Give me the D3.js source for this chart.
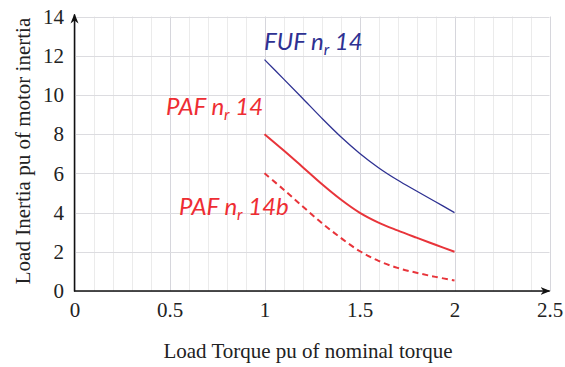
<!DOCTYPE html>
<html>
<head>
<meta charset="utf-8">
<script src="https://cdn.jsdelivr.net/npm/d3@7/dist/d3.min.js"></script>
<style>
  body { margin: 0; background: #fff; }
  svg { display: block; }
</style>
</head>
<body>
<svg id="chart" width="565" height="367"></svg>
<script>
// ---- data ----
const torque = [1.0, 1.1, 1.2, 1.3, 1.4, 1.5, 1.6, 1.7, 1.8, 1.9, 2.0];
const fufNr14 = [11.8, 10.82, 9.83, 8.83, 7.88, 7.03, 6.29, 5.66, 5.1, 4.55, 4.0];
const pafNr14 = [8.0, 7.18, 6.33, 5.47, 4.68, 4.0, 3.49, 3.09, 2.72, 2.36, 2.0];
const pafNr14b = [6.0, 5.18, 4.32, 3.48, 2.72, 2.04, 1.54, 1.18, 0.93, 0.72, 0.54];
const xTicks = [0, 0.5, 1, 1.5, 2, 2.5];
const xTickLabels = ["0", "0.5", "1", "1.5", "2", "2.5"];
const yTicks = [0, 2, 4, 6, 8, 10, 12, 14];
const xTitle = "Load Torque pu of nominal torque";
const yTitle = "Load Inertia pu of motor inertia";

const svg = d3.select("#chart");
const L = 74.5, R = 549.5, T = 16.5, B = 291;
const x = d3.scaleLinear().domain([0, 2.5]).range([L, R]);
const y = d3.scaleLinear().domain([0, 14]).range([B, T]);

// grid
const g = svg.append("g");
const minor = d3.range(0, 2.5001, 0.1);
g.selectAll("line.vx").data(minor).join("line")
  .attr("x1", d => Math.round(x(d)) + 0.5).attr("x2", d => Math.round(x(d)) + 0.5)
  .attr("y1", T).attr("y2", B)
  .attr("stroke", d => (Math.abs(d * 2 - Math.round(d * 2)) < 1e-6) ? "#d6d6dc" : "#ebebeb")
  .attr("stroke-width", 1);
g.selectAll("line.hy").data(yTicks).join("line")
  .attr("x1", L).attr("x2", R)
  .attr("y1", d => Math.round(y(d)) + 0.5).attr("y2", d => Math.round(y(d)) + 0.5)
  .attr("stroke", "#dcdce0").attr("stroke-width", 1);

// axes labels via d3 axes
const xAxis = d3.axisBottom(x).tickValues(xTicks).tickSize(0).tickPadding(11)
  .tickFormat((d, i) => xTickLabels[i]);
const xg = svg.append("g").attr("transform", `translate(0,${B})`).call(xAxis);
xg.select(".domain").remove();
xg.selectAll("text").attr("font-family", "Liberation Serif").attr("font-size", 21).attr("fill", "#222");

const yAxis = d3.axisLeft(y).tickValues(yTicks).tickSize(0).tickPadding(10.5);
const yg = svg.append("g").attr("transform", `translate(${L},0)`).call(yAxis);
yg.select(".domain").remove();
yg.selectAll("text").attr("font-family", "Liberation Serif").attr("font-size", 21).attr("fill", "#222");

// axis lines with arrows
svg.append("defs").append("marker")
  .attr("id", "arr").attr("viewBox", "0 0 10 10").attr("refX", 9).attr("refY", 5)
  .attr("markerWidth", 10).attr("markerHeight", 10).attr("markerUnits", "userSpaceOnUse")
  .attr("orient", "auto")
  .append("path").attr("d", "M0,1 L10,5 L0,9 L3,5 Z").attr("fill", "#111");
svg.append("line").attr("x1", L).attr("x2", L).attr("y1", B + 0.5).attr("y2", T - 2)
  .attr("stroke", "#111").attr("stroke-width", 1.5).attr("marker-end", "url(#arr)");
svg.append("line").attr("x1", L - 0.5).attr("x2", R).attr("y1", B).attr("y2", B)
  .attr("stroke", "#111").attr("stroke-width", 1.5).attr("marker-end", "url(#arr)");

// titles
svg.append("text").attr("x", 308).attr("y", 358).attr("text-anchor", "middle")
  .attr("font-family", "Liberation Serif").attr("font-size", 21).attr("fill", "#222").text(xTitle);
svg.append("text").attr("transform", "translate(30,151) rotate(-90)").attr("text-anchor", "middle")
  .attr("font-family", "Liberation Serif").attr("font-size", 21).attr("fill", "#222").text(yTitle);

// lines
const line = d3.line().x((d, i) => x(torque[i])).y(d => y(d)).curve(d3.curveCatmullRom.alpha(0.5));
svg.append("path").attr("d", line(fufNr14)).attr("fill", "none")
  .attr("stroke", "#2e3192").attr("stroke-width", 1.3);
svg.append("path").attr("d", line(pafNr14)).attr("fill", "none")
  .attr("stroke", "#e8343a").attr("stroke-width", 2);
svg.append("path").attr("d", line(pafNr14b)).attr("fill", "none")
  .attr("stroke", "#e8343a").attr("stroke-width", 2).attr("stroke-dasharray", "6,4");

// labels
function label(xp, yp, main, tail, color) {
  const t = svg.append("text").attr("x", xp).attr("y", yp)
    .attr("font-family", "Lato").attr("font-style", "italic").attr("font-size", 24).attr("fill", color);
  t.append("tspan").text(main + " n");
  t.append("tspan").attr("font-size", 16).attr("dy", 5).text("r");
  t.append("tspan").attr("dy", -5).text(" " + tail);
}
label(264, 50, "FUF", "14", "#2e3192");
label(166, 115, "PAF", "14", "#ee2d33");
label(179, 215, "PAF", "14b", "#ee2d33");
</script>
</body>
</html>
